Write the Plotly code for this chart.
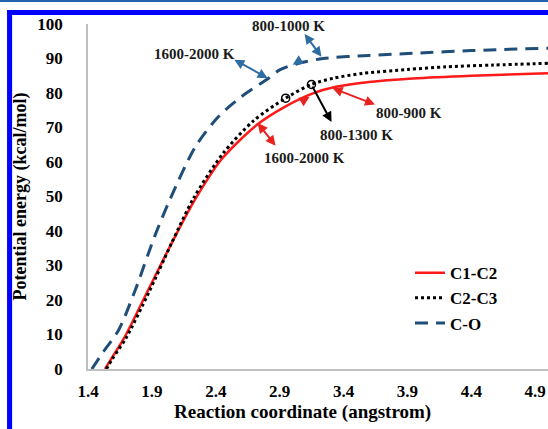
import plotly.graph_objects as go

# ---- data ----
x_co = [1.43, 1.52, 1.64, 1.77, 1.92, 2.04, 2.24, 2.42, 2.60, 2.81, 2.90, 3.05, 3.24, 3.6, 3.94, 4.4, 5.0]
y_co = [0, 5.0, 11.3, 22.9, 38.3, 49, 64.4, 73.1, 78.9, 84.2, 86.7, 88.6, 90.0, 90.9, 91.5, 92.3, 93.0]

x_c1c2 = [1.533, 1.6, 1.689, 1.871, 2.054, 2.236, 2.45, 2.73, 2.94, 3.16, 3.34, 3.6, 3.94, 4.4, 5.0]
y_c1c2 = [0, 4.0, 9.4, 22.9, 36.4, 49, 61.0, 71.0, 76.0, 79.9, 81.8, 83.2, 84.2, 85.0, 85.7]

x_c2c3 = [1.544, 1.592, 1.698, 1.880, 2.053, 2.226, 2.457, 2.697, 2.947, 3.149, 3.322, 3.553, 3.899, 4.206, 4.571, 5.0]
y_c2c3 = [0, 3.0, 9.0, 22.5, 36.4, 49.5, 62.5, 72.0, 78.5, 82.5, 84.3, 85.7, 86.8, 87.6, 88.1, 88.6]

circle_x = [2.947, 3.149]
circle_y = [78.5, 82.5]

x_ticks = [1.4, 1.9, 2.4, 2.9, 3.4, 3.9, 4.4, 4.9]
x_ticktext = ["1.4", "1.9", "2.4", "2.9", "3.4", "3.9", "4.4", "4.9"]
y_ticks = [0, 10, 20, 30, 40, 50, 60, 70, 80, 90, 100]

# (text, text_x, text_y)
labels = [
    ("1600-2000 K", 2.236, 91.3),
    ("800-1000 K", 2.970, 99.4),
    ("800-1300 K", 3.502, 67.8),
    ("800-900 K", 3.916, 74.2),
    ("1600-2000 K", 3.095, 61.2),
]
# (x, y, ax, ay, color, sides)
arrows = [
    (2.806, 84.3, 2.533, 89.9, "#2E6DA4", "end+start"),
    (3.095, 97.1, 3.236, 90.1, "#2E6DA4", "end+start"),
    (3.002, 88.2, 3.056, 89.4, "#2E6DA4", "end"),
    (3.306, 71.6, 3.150, 82.3, "black", "end"),
    (3.314, 81.4, 3.658, 76.5, "#E8231F", "end+start"),
    (3.134, 78.9, 3.08, 77.7, "#E8231F", "end"),
    (2.728, 71.3, 2.877, 64.3, "#E8231F", "end+start"),
]

FONT = "Liberation Serif, Times New Roman, serif"

fig = go.Figure()
fig.add_trace(go.Scatter(x=x_c1c2, y=y_c1c2, mode="lines", name="C1-C2",
                         line=dict(color="#FF1A1A", width=2.5, shape="spline", smoothing=0.8)))
fig.add_trace(go.Scatter(x=x_c2c3, y=y_c2c3, mode="lines", name="C2-C3",
                         line=dict(color="black", width=3, dash="3px,3px", shape="spline", smoothing=0.8)))
fig.add_trace(go.Scatter(x=x_co, y=y_co, mode="lines", name="C-O",
                         line=dict(color="#1F4E79", width=3, dash="13px,8px", shape="spline", smoothing=0.8)))
fig.add_trace(go.Scatter(x=circle_x, y=circle_y, mode="markers", showlegend=False,
                         marker=dict(symbol="circle-open", size=8, color="black", line=dict(width=1.5))))

for t, tx, ty in labels:
    fig.add_annotation(x=tx, y=ty, text=t, showarrow=False, xanchor="center", yanchor="middle",
                       font=dict(family=FONT, size=15, color="#1a1a1a", weight="bold"))
for x, y, ax, ay, c, side in arrows:
    fig.add_annotation(x=x, y=y, ax=ax, ay=ay, axref="x", ayref="y", text="", showarrow=True,
                       arrowhead=2, arrowsize=1, arrowwidth=2, arrowcolor=c, arrowside=side,
                       standoff=0, startstandoff=0, font=dict(size=1))

# x-axis title (centred as in the reference)
fig.add_annotation(xref="paper", yref="paper", x=0.467, y=-0.125, text="Reaction coordinate (angstrom)",
                   showarrow=False, xanchor="center", yanchor="middle",
                   font=dict(family=FONT, size=19, color="black", weight="bold"))

# blue frame
fig.add_shape(type="rect", xref="paper", yref="paper", x0=-0.2, x1=1.05, y0=1.0638, y1=1.08,
              fillcolor="#2562AE", line=dict(width=0), layer="above")
fig.add_shape(type="rect", xref="paper", yref="paper", x0=-0.176, x1=1.05, y0=1.0261, y1=1.0406,
              fillcolor="#0000FF", line=dict(width=0), layer="above")
fig.add_shape(type="rect", xref="paper", yref="paper", x0=-0.176, x1=-0.165, y0=-0.2, y1=1.0406,
              fillcolor="#0000FF", line=dict(width=0), layer="above")

fig.update_layout(
    width=548, height=429,
    margin=dict(l=88, r=0, t=24, b=60, autoexpand=False),
    paper_bgcolor="white", plot_bgcolor="white",
    font=dict(family=FONT, size=17, color="black", weight="bold"),
    showlegend=True,
    legend=dict(x=0.70, y=0.33, xanchor="left", yanchor="top", bgcolor="rgba(0,0,0,0)",
                tracegroupgap=0,
                font=dict(family=FONT, size=17, color="black", weight="bold")),
    xaxis=dict(range=[1.4, 5.0], tickvals=x_ticks, ticktext=x_ticktext, showgrid=False, zeroline=False,
               showline=True, linecolor="#BFBFBF", linewidth=1.5, ticks="outside", ticklen=6,
               tickcolor="rgba(0,0,0,0)", automargin=False),
    yaxis=dict(range=[0, 100], tickvals=y_ticks, showgrid=False, zeroline=False,
               showline=True, linecolor="#BFBFBF", linewidth=1.5, ticks="outside", ticklen=20,
               tickcolor="rgba(0,0,0,0)", automargin=False,
               title=dict(text="Potential energy (kcal/mol)", standoff=6,
                          font=dict(family=FONT, size=18, weight="bold"))),
)

fig.write_html("out.html", config={"displayModeBar": False},
               post_script="document.body.style.margin='0px';document.body.style.overflow='hidden';")
